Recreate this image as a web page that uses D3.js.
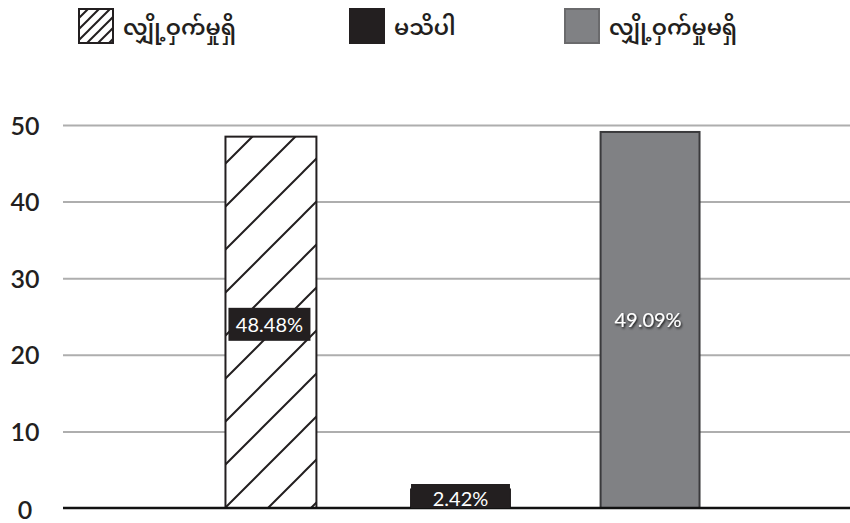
<!DOCTYPE html>
<html><head><meta charset="utf-8">
<script src="https://cdn.jsdelivr.net/npm/d3@7"></script>
<style>
body{margin:0;background:#fff;}
svg{display:block;}
</style></head>
<body>
<svg id="chart" width="850" height="523"></svg>
<script>
const categories = ["လျှို့ဝှက်မှုရှိ", "မသိပါ", "လျှို့ဝှက်မှုမရှိ"];
const values = [48.48, 2.42, 49.09];
const valueLabels = ["48.48%", "2.42%", "49.09%"];
const yTicks = [0, 10, 20, 30, 40, 50];
const fills = ["url(#hatch)", "#231f20", "#808184"];
const legendFills = ["url(#hatchSmall)", "#231f20", "#808184"];

const svg = d3.select("#chart");
const numFont = "'Lato','Open Sans',sans-serif";
const mmFont = "'Noto Sans Myanmar','Myanmar Text','Padauk','Noto Sans',sans-serif";

const defs = svg.append("defs");
const p = defs.append("pattern").attr("id","hatch").attr("patternUnits","userSpaceOnUse")
  .attr("width",43).attr("height",43).attr("patternTransform","translate(2,0)");
p.append("rect").attr("width",43).attr("height",43).attr("fill","#fff");
p.append("path").attr("d","M-2,45 L45,-2 M-2,2 L2,-2 M41,45 L45,41").attr("stroke","#231f20").attr("stroke-width",2);
const ps = defs.append("pattern").attr("id","hatchSmall").attr("patternUnits","userSpaceOnUse")
  .attr("width",11).attr("height",11);
ps.append("rect").attr("width",11).attr("height",11).attr("fill","#fff");
ps.append("path").attr("d","M-1,12 L12,-1 M-1,1 L1,-1 M10,12 L12,10").attr("stroke","#231f20").attr("stroke-width",2);
const f = defs.append("filter").attr("id","shadow").attr("x","-20%").attr("y","-20%").attr("width","140%").attr("height","140%");
f.append("feDropShadow").attr("dx",1).attr("dy",1.5).attr("stdDeviation",0.8).attr("flood-color","#000").attr("flood-opacity",0.9);

const y = d3.scaleLinear().domain([0, 50]).range([508, 125]);
const x = d3.scaleBand().domain(categories).range([63, 858]).paddingInner(0.478).paddingOuter(0.836);

// gridlines via axis
const grid = svg.append("g").attr("transform","translate(63,0)")
  .call(d3.axisRight(y).tickValues(yTicks.filter(d=>d>0)).tickSize(787).tickFormat(""));
grid.select(".domain").remove();
grid.selectAll(".tick line").attr("stroke","#aeaeae").attr("stroke-width",2);

// y tick labels
const yAxis = svg.append("g").attr("transform","translate(25,0)")
  .call(d3.axisLeft(y).tickValues(yTicks).tickSize(0).tickPadding(0).tickFormat(d3.format("d")));
yAxis.select(".domain").remove();
yAxis.selectAll("text").attr("text-anchor","middle").attr("x",0).attr("dy","0.36em")
  .attr("font-family",numFont).attr("font-size",25).attr("font-weight",600).attr("fill","#231f20");
yAxis.selectAll(".tick").filter(d=>d===0).select("text").attr("dy","0.4em");

// bars
const inset = [4, 0, 0];
svg.append("g").selectAll("rect").data(categories).join("rect")
  .attr("x",(d,i)=>x(d)+inset[i]).attr("width",(d,i)=>x.bandwidth()-2*inset[i])
  .attr("y",(d,i)=>y(values[i])).attr("height",(d,i)=>y(0)-y(values[i]))
  .attr("fill",(d,i)=>fills[i])
  .attr("stroke",(d,i)=>i===2?"#3a3a3c":"#231f20").attr("stroke-width",2);

// baseline
svg.append("line").attr("x1",63).attr("x2",850).attr("y1",y(0)).attr("y2",y(0))
  .attr("stroke","#111").attr("stroke-width",2.5);

// labels
const cx = i => x(categories[i]) + x.bandwidth()/2;
const c0 = cx(0) - 1.5, m0 = (y(values[0]) + y(0))/2 + 2;
svg.append("rect").attr("x",c0-41).attr("y",m0-16.5).attr("width",82).attr("height",33).attr("fill","#231f20");
svg.append("text").attr("x",c0).attr("y",m0).attr("dy","0.36em").attr("text-anchor","middle")
  .attr("font-family",numFont).attr("font-size",20).attr("fill","#fff").text(valueLabels[0]);
svg.append("rect").attr("x",x(categories[1])).attr("y",y(0)-24).attr("width",x.bandwidth()).attr("height",24).attr("fill","#231f20");
svg.append("text").attr("x",cx(1)).attr("y",y(0)-2).attr("text-anchor","middle")
  .attr("font-family",numFont).attr("font-size",20).attr("fill","#fff").text(valueLabels[1]);
svg.append("text").attr("x",cx(2)-2).attr("y",(y(values[2])+y(0))/2).attr("dy","0.36em").attr("text-anchor","middle")
  .attr("font-family",numFont).attr("font-size",20).attr("fill","#fff").attr("filter","url(#shadow)").text(valueLabels[2]);

// legend
const legendX = [78, 349, 564];
const lg = svg.append("g").selectAll("g").data(categories).join("g")
  .attr("transform",(d,i)=>`translate(${legendX[i]},8)`);
lg.append("rect").attr("x",1).attr("y",1).attr("width",34).attr("height",34)
  .attr("fill",(d,i)=>legendFills[i]).attr("stroke",(d,i)=>i===2?"#6a6a6c":"#231f20").attr("stroke-width",2);
lg.append("text").attr("x",45).attr("y",19).attr("dy","0.36em")
  .attr("font-family",mmFont).attr("font-size",22).attr("font-weight",600).attr("fill","#231f20").text(d=>d);
</script>
</body></html>
